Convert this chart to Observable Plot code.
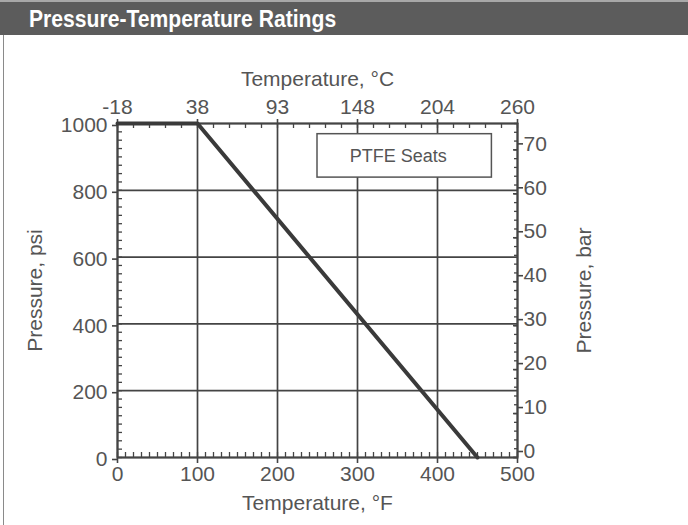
<!DOCTYPE html>
<html>
<head>
<meta charset="utf-8">
<script src="https://cdn.jsdelivr.net/npm/d3@7"></script>
<script src="https://cdn.jsdelivr.net/npm/@observablehq/plot@0.6"></script>
<style>
  html, body { margin: 0; padding: 0; background: #fff; overflow: hidden; }
  #page { position: relative; width: 688px; height: 525px; }
  #header { height: 33px; background: #5c5c5c; border-top: 2px solid #a8a8a8; }
  #title { display: inline-block; color: #fff; font-family: "Liberation Sans", Arial, sans-serif; font-weight: bold;
    font-size: 24px; line-height: 34px; margin-left: 29px; transform: scaleX(0.88); transform-origin: left center; white-space: nowrap; }
  #leftline { position: absolute; left: 3px; top: 35px; width: 1px; height: 490px; background: #8a8a8a; }
  #chart svg { display: block; }
  #chart g[aria-label$="tick label"] text { font-size: 21px; }
</style>
</head>
<body>
<div id="page">
  <div id="header"><span id="title">Pressure-Temperature Ratings</span></div>
  <div id="leftline"></div>
  <div id="chart"></div>
</div>
<script>
// ---- data ----
const tempF = [0, 100, 450];            // °F
const pressurePsi = [1000, 1000, 0];    // psi
const fTicks = [0, 100, 200, 300, 400, 500];
const cLabels = ["-18", "38", "93", "148", "204", "260"];
const psiTicks = [0, 200, 400, 600, 800, 1000];
const barTicks = [0, 10, 20, 30, 40, 50, 60, 70];
const barAtTop = 76;                    // bar value the chart's right axis places at 1000 psi
const legendLabel = ["PTFE Seats"];
const legendX1 = [250], legendX2 = [468], legendY1 = [838], legendY2 = [968];
const titleBottom = "Temperature, °F";
const titleTop = "Temperature, °C";
const titleLeft = "Pressure, psi";
const titleRight = "Pressure, bar";

const minorBottom = d3.range(0, 501, 10);
const minorTop = d3.range(0, 501, 20);
const minorLeft = d3.range(0, 1001, 25);
const minorRight = d3.range(0, barAtTop + 0.1, 2).map(b => b * 1000 / barAtTop);
const barPos = barTicks.map(b => b * 1000 / barAtTop);

const points = tempF.map((t, i) => ({t, p: pressurePsi[i]}));
const legend = legendLabel.map((l, i) => ({l, x1: legendX1[i], x2: legendX2[i], y1: legendY1[i], y2: legendY2[i]}));

const ink = "#444";
const txt = "#555";
const empty = () => "";

const chart = Plot.plot({
  width: 688,
  height: 490,
  marginLeft: 117,
  marginRight: 171,
  marginTop: 88,
  marginBottom: 68,
  style: {fontFamily: "'Liberation Sans', Arial, sans-serif", fontSize: "21px", color: txt, background: "transparent"},
  x: {domain: [0, 500], axis: null},
  y: {domain: [0, 1000], axis: null},
  marks: [
    Plot.gridX({ticks: fTicks, stroke: ink, strokeOpacity: 1, strokeWidth: 1.7}),
    Plot.gridY({ticks: psiTicks, stroke: ink, strokeOpacity: 1, strokeWidth: 1.7}),
    // minor inward ticks
    Plot.axisX({anchor: "bottom", ticks: minorBottom, tickSize: -5, tickFormat: empty, label: null, stroke: ink, strokeWidth: 1.3}),
    Plot.axisX({anchor: "top", ticks: minorTop, tickSize: -4, tickFormat: empty, label: null, stroke: ink, strokeWidth: 1.3}),
    Plot.axisY({anchor: "left", ticks: minorLeft, tickSize: -5, tickFormat: empty, label: null, stroke: ink, strokeWidth: 1.3}),
    Plot.axisY({anchor: "right", ticks: minorRight, tickSize: -4, tickFormat: empty, label: null, stroke: ink, strokeWidth: 1.3}),
    // major axes
    Plot.axisX({anchor: "bottom", ticks: fTicks, tickSize: 6, tickPadding: 3, label: null, fill: txt, stroke: ink, strokeWidth: 1.6,
      tickFormat: d => String(d)}),
    Plot.axisX({anchor: "top", ticks: fTicks, tickSize: 5, tickPadding: 5, label: null, fill: txt, stroke: ink, strokeWidth: 1.6,
      tickFormat: d => cLabels[fTicks.indexOf(d)]}),
    Plot.axisY({anchor: "left", ticks: psiTicks, tickSize: 5, tickPadding: 5, dy: 2, label: null, fill: txt, stroke: ink, strokeWidth: 1.6,
      tickFormat: d => String(d)}),
    Plot.axisY({anchor: "right", ticks: barPos, tickSize: 5, tickPadding: 1, dy: -6, label: null, fill: txt, stroke: ink, strokeWidth: 1.6,
      tickFormat: d => String(barTicks[barPos.indexOf(d)])}),
    Plot.axisY({anchor: "right", ticks: barPos, tickSize: -5, tickFormat: empty, label: null, stroke: ink, strokeWidth: 1.6}),
    Plot.frame({stroke: ink, strokeWidth: 2}),
    // legend box
    Plot.rect(legend, {x1: "x1", x2: "x2", y1: "y1", y2: "y2", fill: "white", stroke: "#555", strokeWidth: 1.5}),
    Plot.text(legend, {x: d => (d.x1 + d.x2) / 2 - 8, y: d => (d.y1 + d.y2) / 2, text: "l", fontSize: 18, fill: txt}),
    // data line
    Plot.line(points, {x: "t", y: "p", stroke: "#3a3a3a", strokeWidth: 4}),
    // axis titles
    Plot.text([titleBottom], {frameAnchor: "bottom", dy: 52, text: d => d, fontSize: 21, fill: txt}),
    Plot.text([titleTop], {frameAnchor: "top", dy: -52, text: d => d, fontSize: 21, fill: txt}),
    Plot.text([titleLeft], {frameAnchor: "left", dx: -82, rotate: -90, textAnchor: "middle", text: d => d, fontSize: 21, fill: txt}),
    Plot.text([titleRight], {frameAnchor: "right", dx: 67, rotate: -90, textAnchor: "middle", text: d => d, fontSize: 21, fill: txt})
  ]
});
document.getElementById("chart").append(chart);
</script>
</body>
</html>
